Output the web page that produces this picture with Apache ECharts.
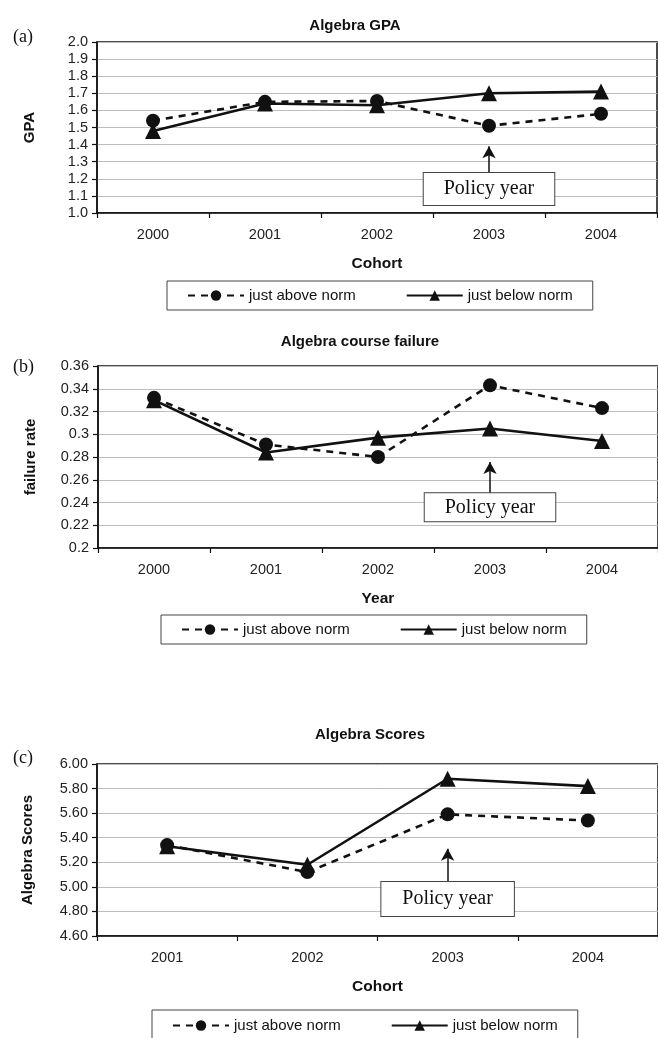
<!DOCTYPE html>
<html>
<head>
<meta charset="utf-8">
<script src="https://cdn.jsdelivr.net/npm/echarts@6/dist/echarts.min.js"></script>
<style>html,body{margin:0;padding:0;background:#fff;}#c{width:658px;height:1038px;}</style>
</head>
<body>
<div id="c"></div>
<script>
// ---- data ----
const yearsA = ['2000','2001','2002','2003','2004'];
const gpaAbove = [1.54, 1.65, 1.655, 1.51, 1.58];
const gpaBelow = [1.48, 1.64, 1.63, 1.70, 1.71];

const yearsB = ['2000','2001','2002','2003','2004'];
const failAbove = [0.332, 0.291, 0.280, 0.343, 0.323];
const failBelow = [0.330, 0.284, 0.297, 0.305, 0.294];

const yearsC = ['2001','2002','2003','2004'];
const scoreAbove = [5.34, 5.12, 5.59, 5.54];
const scoreBelow = [5.33, 5.18, 5.88, 5.82];

const seriesNames = ['just above norm', 'just below norm'];
const titles = ['Algebra GPA', 'Algebra course failure', 'Algebra Scores'];
const panelTags = ['(a)', '(b)', '(c)'];
const xNames = ['Cohort', 'Year', 'Cohort'];
const yNames = ['GPA', 'failure rate', 'Algebra Scores'];
const policyYear = '2003';
const policyText = 'Policy year';
// annotation: [box centre value, arrow start value, arrow end value]
const policyA = [1.141, 1.235, 1.39];
const policyB = [0.2358, 0.2477, 0.2755];
const policyC = [4.901, 5.04, 5.31];

// ---- styles ----
const SANS = 'Liberation Sans';
const SERIF = 'Liberation Serif';
const INK = '#111';

function yAxisCfg(idx, min, max, interval, fmt, gap) {
  return {
    type: 'value', gridIndex: idx, min: min, max: max, interval: interval,
    name: yNames[idx], nameLocation: 'middle', nameGap: gap,
    nameTextStyle: {fontFamily: SANS, fontWeight: 'bold', fontSize: 15, color: INK},
    axisLine: {show: true, lineStyle: {color: INK, width: 1.5}},
    axisTick: {show: true, length: 5, lineStyle: {color: INK, width: 1.2}},
    axisLabel: {fontFamily: SANS, fontSize: 14.5, color: '#222', margin: 9, formatter: fmt},
    splitLine: {show: true, lineStyle: {color: '#bdbdbd', width: 1}}
  };
}
function xAxisCfg(idx, cats) {
  return {
    type: 'category', gridIndex: idx, data: cats, boundaryGap: true,
    name: xNames[idx], nameLocation: 'middle', nameGap: 43,
    nameTextStyle: {fontFamily: SANS, fontWeight: 'bold', fontSize: 15.5, color: INK},
    axisLine: {show: true, lineStyle: {color: INK, width: 1.5}},
    axisTick: {show: true, length: 5, lineStyle: {color: INK, width: 1.2}},
    axisLabel: {fontFamily: SANS, fontSize: 14.5, color: '#222', margin: 14},
    splitLine: {show: false}
  };
}
function aboveSeries(idx, data) {
  return {
    name: seriesNames[0], type: 'line', xAxisIndex: idx, yAxisIndex: idx, data: data,
    symbol: 'circle', symbolSize: 14, itemStyle: {color: INK},
    lineStyle: {color: INK, width: 2.6, type: [7, 6]},
    emphasis: {disabled: true}, z: 3
  };
}
function belowSeries(idx, data, pol, pad) {
  return {
    name: seriesNames[1], type: 'line', xAxisIndex: idx, yAxisIndex: idx, data: data,
    symbol: 'triangle', symbolSize: 16, itemStyle: {color: INK},
    lineStyle: {color: INK, width: 2.6, type: 'solid'},
    emphasis: {disabled: true}, z: 4,
    markLine: {
      silent: true, symbol: ['none', 'arrow'], symbolSize: [10, 12],
      label: {show: false},
      lineStyle: {color: INK, width: 1.5, type: 'solid'},
      data: [[{coord: [policyYear, pol[1]]}, {coord: [policyYear, pol[2]]}]]
    },
    markPoint: {
      silent: true, symbol: 'circle', symbolSize: 1,
      itemStyle: {color: 'rgba(0,0,0,0)'},
      label: {show: true, position: 'inside', formatter: policyText,
              fontFamily: SERIF, fontSize: 20, lineHeight: 22, color: INK,
              backgroundColor: '#fff', borderColor: '#444', borderWidth: 1, padding: pad},
      data: [{coord: [policyYear, pol[0]]}]
    }
  };
}
function legendCfg(left, top, pad) {
  return {
    left: left, top: top, data: seriesNames,
    itemWidth: 56, itemHeight: 13, itemGap: 50,
    borderColor: '#444', borderWidth: 1, padding: pad,
    textStyle: {fontFamily: SANS, fontSize: 15, color: INK},
    selectedMode: false
  };
}
function titleCfg(i, cx, top) {
  return {text: titles[i], left: cx, top: top, textAlign: 'center',
          textStyle: {fontFamily: SANS, fontWeight: 'bold', fontSize: 15, color: INK}};
}
function tagCfg(i, top) {
  return {text: panelTags[i], left: 8, top: top,
          textStyle: {fontFamily: SERIF, fontWeight: 'normal', fontSize: 18, color: INK}};
}

const chart = echarts.init(document.getElementById('c'), null, {renderer: 'canvas'});
chart.setOption({
  animation: false,
  backgroundColor: '#fff',
  title: [
    titleCfg(0, 350, 13), titleCfg(1, 355, 329), titleCfg(2, 365, 722),
    tagCfg(0, 23), tagCfg(1, 353), tagCfg(2, 744)
  ],
  legend: [
    legendCfg(167, 281, [7, 20, 7, 20]),
    legendCfg(161, 615, [7, 20, 7, 20]),
    legendCfg(152, 1010, [8, 20, 14, 20])
  ],
  grid: [
    {left: 97, top: 42, width: 560, height: 171, show: true, borderColor: INK, borderWidth: 1.5, backgroundColor: 'transparent'},
    {left: 98, top: 366, width: 561, height: 182, show: true, borderColor: INK, borderWidth: 1.5, backgroundColor: 'transparent'},
    {left: 97, top: 764, width: 572, height: 172, show: true, borderColor: INK, borderWidth: 1.5, backgroundColor: 'transparent'}
  ],
  xAxis: [xAxisCfg(0, yearsA), xAxisCfg(1, yearsB), xAxisCfg(2, yearsC)],
  yAxis: [
    yAxisCfg(0, 1.0, 2.0, 0.1, v => v.toFixed(1), 60),
    yAxisCfg(1, 0.2, 0.36, 0.02, v => String(+v.toFixed(2)), 60),
    yAxisCfg(2, 4.6, 6.0, 0.2, v => v.toFixed(2), 62)
  ],
  series: [
    aboveSeries(0, gpaAbove), belowSeries(0, gpaBelow, policyA, [5, 20]),
    aboveSeries(1, failAbove), belowSeries(1, failBelow, policyB, [3, 20]),
    aboveSeries(2, scoreAbove), belowSeries(2, scoreBelow, policyC, [6, 21])
  ]
});
</script>
</body>
</html>
